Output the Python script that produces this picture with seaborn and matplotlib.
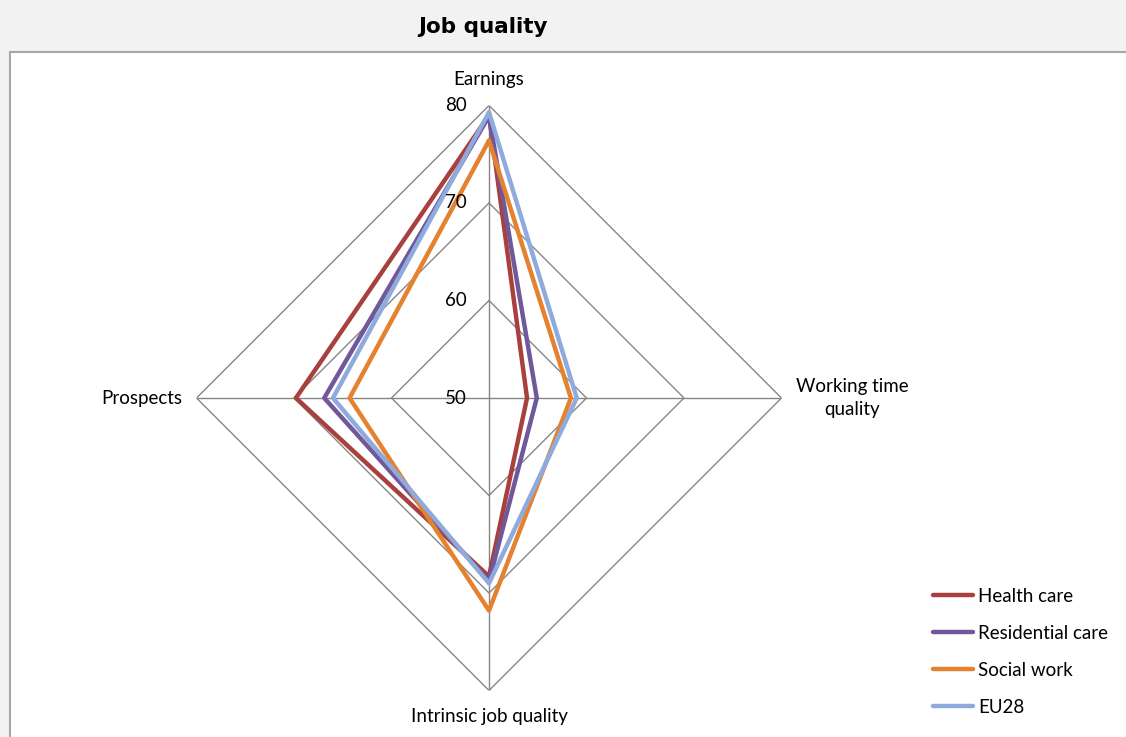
import numpy as np
import pandas as pd
import matplotlib
matplotlib.use("Agg")
import matplotlib.pyplot as plt
from matplotlib.patches import Rectangle
import seaborn as sns

categories = ["Earnings", "Working time\nquality", "Intrinsic job quality", "Prospects"]
series_names = ["Health care", "Residential care", "Social work", "EU28"]
health_care = [79.0, 53.9, 68.3, 69.8]
residential_care = [78.9, 54.9, 68.8, 66.9]
social_work = [76.4, 58.4, 71.8, 64.3]
eu28 = [79.3, 59.0, 69.0, 66.0]
r_ticks = [50, 60, 70, 80]
colors = ["#A8413E", "#71589A", "#E5822F", "#8FAADC"]

sns.set_style("white")
plt.rcParams["font.family"] = ["Lato", "DejaVu Sans"]
plt.rcParams["text.color"] = "black"

W, H = 1126, 737
FS = 13.5
fig = plt.figure(figsize=(W / 100, H / 100), dpi=100, facecolor="#F2F2F2")

# white plot area with border
fig.patches.append(Rectangle((10 / W, -0.05), 1.2, (H - 52) / H + 0.05,
                             transform=fig.transFigure, facecolor="white",
                             edgecolor="#A6A6A6", linewidth=1.5, zorder=-10))

fig.text(483 / W, 1 - 27 / H, "Job quality", ha="center", va="center",
         fontsize=15.5, fontweight="bold", family="DejaVu Sans", color="black")

R = 292.5
cx, cy = 489, H - 398
ax = fig.add_axes([(cx - R) / W, (cy - R) / H, 2 * R / W, 2 * R / H], projection="polar")
ax.set_theta_offset(np.pi / 2)
ax.set_theta_direction(-1)
ax.set_ylim(r_ticks[0], r_ticks[-1])
ax.patch.set_alpha(0)
ax.grid(False)
ax.spines["polar"].set_visible(False)
ax.set_xticks([])
ax.set_yticks([])

n = len(categories)
angles = [2 * np.pi * i / n for i in range(n)]
closed = angles + [angles[0] + 2 * np.pi]

# diamond gridlines and spokes
for r in r_ticks[1:]:
    ax.plot(closed, [r] * (n + 1), color="#868686", lw=1.0, zorder=1)
for a in angles:
    ax.plot([a, a], [r_ticks[0], r_ticks[-1]], color="#868686", lw=1.0, zorder=1)

rows = []
for name, vals in zip(series_names, [health_care, residential_care, social_work, eu28]):
    for a, v in zip(closed, vals + [vals[0]]):
        rows.append({"theta": a, "value": v, "series": name})
df = pd.DataFrame(rows)

sns.lineplot(data=df, x="theta", y="value", hue="series", hue_order=series_names,
             palette=colors, sort=False, estimator=None, linewidth=3.2, ax=ax, zorder=3)
ax.set_xlabel("")
ax.set_ylabel("")
ax.set_ylim(r_ticks[0], r_ticks[-1])

# radial tick labels
for r in r_ticks:
    ax.annotate(str(r), xy=(0, r), xytext=(-16, 0), textcoords="offset points",
                ha="right", va="center", fontsize=FS)

# category labels
ax.annotate(categories[0], xy=(angles[0], 80), xytext=(0, 19), textcoords="offset points",
            ha="center", va="center", fontsize=FS)
ax.annotate(categories[1], xy=(angles[1], 80), xytext=(51, 0), textcoords="offset points",
            ha="center", va="center", fontsize=FS, multialignment="center", linespacing=1.45)
ax.annotate(categories[2], xy=(angles[2], 80), xytext=(0, -19), textcoords="offset points",
            ha="center", va="center", fontsize=FS)
ax.annotate(categories[3], xy=(angles[3], 80), xytext=(-10, 0), textcoords="offset points",
            ha="right", va="center", fontsize=FS)

sns.move_legend(ax, loc="upper left", bbox_to_anchor=(933 / W, 1 - 588 / H),
                bbox_transform=fig.transFigure, frameon=False, title=None,
                fontsize=FS, handlelength=2.13, handletextpad=0.27, labelspacing=1.06,
                borderpad=0, borderaxespad=0)

fig.savefig("out.png", dpi=100, facecolor=fig.get_facecolor())
